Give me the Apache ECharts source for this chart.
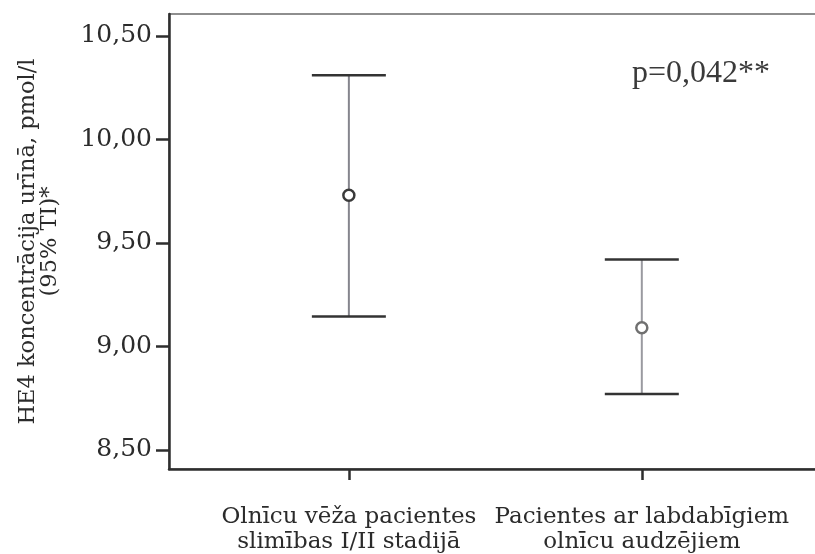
<!DOCTYPE html>
<html>
<head>
<meta charset="utf-8">
<script src="https://cdn.jsdelivr.net/npm/echarts@6/dist/echarts.min.js"></script>
<style>
  html, body { margin: 0; padding: 0; background: #ffffff; }
  #chart { width: 815px; height: 554px; }
</style>
</head>
<body>
<div id="chart"></div>
<script>
// Groups on the horizontal axis (placed at x = 1 and x = 2)
const categories = [
  'Olnīcu vēža pacientes\nslimības I/II stadijā',
  'Pacientes ar labdabīgiem\nolnīcu audzējiem'
];
// Mean HE4 and 95% confidence interval bounds, pmol/l
const means = [9.73, 9.09];
const lowerCI = [9.145, 8.77];
const upperCI = [10.31, 9.42];
// Y-axis tick values
const yTicks = [8.5, 9.0, 9.5, 10.0, 10.5];
const pValueText = 'p=0,042**';

const barData = categories.map((c, i) => [i + 1, lowerCI[i], upperCI[i], means[i]]);
const lineColors = ['#85858d', '#9a9aa0'];
const markerColors = ['#3a3a3a', '#707070'];

const chart = echarts.init(document.getElementById('chart'), null, { renderer: 'canvas' });

chart.setOption({
  backgroundColor: '#ffffff',
  animation: false,
  grid: {
    left: 169, top: 14, width: 660, height: 455,
    outerBoundsMode: 'none',
    containLabel: false,
    show: true, borderColor: '#6a6a6a', borderWidth: 1.5,
    backgroundColor: 'transparent'
  },
  xAxis: {
    type: 'value',
    min: 0.386, max: 2.639,
    splitLine: { show: false },
    axisLine: { show: true, onZero: false, lineStyle: { color: '#2e2e2e', width: 2.5 } },
    axisTick: { show: true, customValues: [1, 2], length: 11, lineStyle: { color: '#2e2e2e', width: 2.5 } },
    axisLabel: {
      customValues: [1, 2],
      formatter: v => categories[Math.round(v) - 1] || '',
      fontFamily: 'DejaVu Serif', fontSize: 23, color: '#2b2b2b',
      lineHeight: 25, margin: 36, align: 'center'
    }
  },
  yAxis: {
    type: 'value',
    min: 8.408, max: 10.606,
    splitLine: { show: false },
    axisLine: { show: true, onZero: false, lineStyle: { color: '#2e2e2e', width: 2.5 } },
    axisTick: { show: true, customValues: yTicks, length: 13, lineStyle: { color: '#2e2e2e', width: 2.5 } },
    axisLabel: {
      customValues: yTicks,
      formatter: v => v.toFixed(2).replace('.', ','),
      fontFamily: 'DejaVu Serif', fontSize: 25, color: '#2b2b2b', margin: 17
    },
    name: 'HE4 koncentrācija urīnā, pmol/l\n(95% TI)*',
    nameLocation: 'middle',
    nameRotate: 90,
    nameGap: 108,
    nameTextStyle: {
      fontFamily: 'DejaVu Serif', fontSize: 22.5, color: '#2b2b2b',
      lineHeight: 22, align: 'center'
    }
  },
  series: [{
    type: 'custom',
    data: barData,
    encode: { x: 0, y: [1, 2, 3] },
    clip: false,
    renderItem: function (params, api) {
      const i = params.dataIndex;
      const x = api.value(0);
      const lo = api.coord([x, api.value(1)]);
      const hi = api.coord([x, api.value(2)]);
      const mid = api.coord([x, api.value(3)]);
      const capHalf = 37;
      return {
        type: 'group',
        children: [
          { type: 'line', shape: { x1: lo[0], y1: lo[1], x2: hi[0], y2: hi[1] },
            style: { stroke: lineColors[i], lineWidth: 2 } },
          { type: 'line', shape: { x1: hi[0] - capHalf, y1: hi[1], x2: hi[0] + capHalf, y2: hi[1] },
            style: { stroke: '#333333', lineWidth: 2.5 } },
          { type: 'line', shape: { x1: lo[0] - capHalf, y1: lo[1], x2: lo[0] + capHalf, y2: lo[1] },
            style: { stroke: '#333333', lineWidth: 2.5 } },
          { type: 'circle', shape: { cx: mid[0], cy: mid[1], r: 5.5 },
            style: { fill: '#ffffff', stroke: markerColors[i], lineWidth: 2.5 } }
        ]
      };
    }
  }],
  graphic: [{
    type: 'text',
    left: 632, top: 58,
    style: {
      text: pValueText,
      font: '32px "Liberation Serif"',
      fill: '#3a3a3a'
    }
  }]
});
</script>
</body>
</html>
